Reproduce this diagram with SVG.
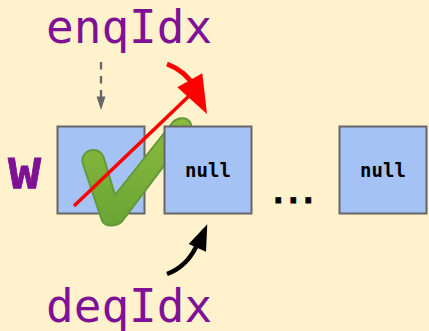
<svg xmlns="http://www.w3.org/2000/svg" width="429" height="331" viewBox="0 0 429 331">
<defs>
<linearGradient id="chk" x1="0" y1="0" x2="0" y2="1"><stop offset="0" stop-color="#8bbb40"/><stop offset="1" stop-color="#6aa534"/></linearGradient>
</defs>
<style>
.box{fill:#a4c2f4;stroke:#666;stroke-width:2}
.lbl{font-family:"DejaVu Sans Mono","Liberation Mono",monospace;font-size:46px;fill:#7e1195}
.nul{font-family:"DejaVu Sans Mono","Liberation Mono",monospace;font-size:19px;font-weight:bold;fill:#000;text-anchor:middle}
</style>
<rect width="429" height="331" fill="#fff2cc"/>
<g id="cell-0"><rect class="box" x="57.500" y="126.500" width="87" height="87"/></g>
<g id="check">
<path d="M93.300 150 C100 150 103.500 155 105 161.700 L115 195 L173.300 121.700 C177 118 186 116 190 122 C193 127 191 130 188 134 L121.700 221.700 C117 226 105 228 101.700 220 L83.300 165 C80 157 86 150 93.300 150 Z" fill="url(#chk)" stroke="#64993a" stroke-width="2"/>
</g>
<g id="cell-1"><rect class="box" x="164.500" y="126.500" width="87" height="87"/><text class="nul" x="208" y="177">null</text></g>
<g id="cell-2"><rect class="box" x="339.500" y="126.500" width="87" height="87"/><text class="nul" x="383" y="177">null</text></g>
<g id="w"><text x="8" y="188" font-family="'DejaVu Sans Mono','Liberation Mono',monospace" font-size="55" font-weight="bold" fill="#7e1195" stroke="#7e1195" stroke-width="0.800">w</text></g>
<g id="enqIdx"><text class="lbl" x="46" y="43">enqIdx</text></g>
<g id="deqIdx"><text class="lbl" x="46" y="322">deqIdx</text></g>
<g id="dots"><text x="269.300 284.300 299.300" y="202.800" font-family="'DejaVu Sans Mono','Liberation Mono',monospace" font-size="30" font-weight="bold" fill="#000" stroke="#000" stroke-width="0.800">...</text></g>
<g id="connectors">
<path d="M101 62 L101 98" fill="none" stroke="#666" stroke-width="2.300" stroke-dasharray="7.500 6.500"/>
<path d="M101 110 L96.500 96.500 L105.500 96.500 Z" fill="#666"/>
<line x1="74" y1="206" x2="190" y2="95" stroke="#f00" stroke-width="3.500"/>
<path d="M167 64 Q186 71 195 88" fill="none" stroke="#f00" stroke-width="5"/>
<path d="M207 114 L177.300 87.300 L202.300 73.300 Z" fill="#f00"/>
<path d="M167 274 Q186 267 196 247" fill="none" stroke="#000" stroke-width="4.500"/>
<path d="M207.300 224.300 L188.700 244 L206 251.700 Z" fill="#000"/>
</g>
</svg>
